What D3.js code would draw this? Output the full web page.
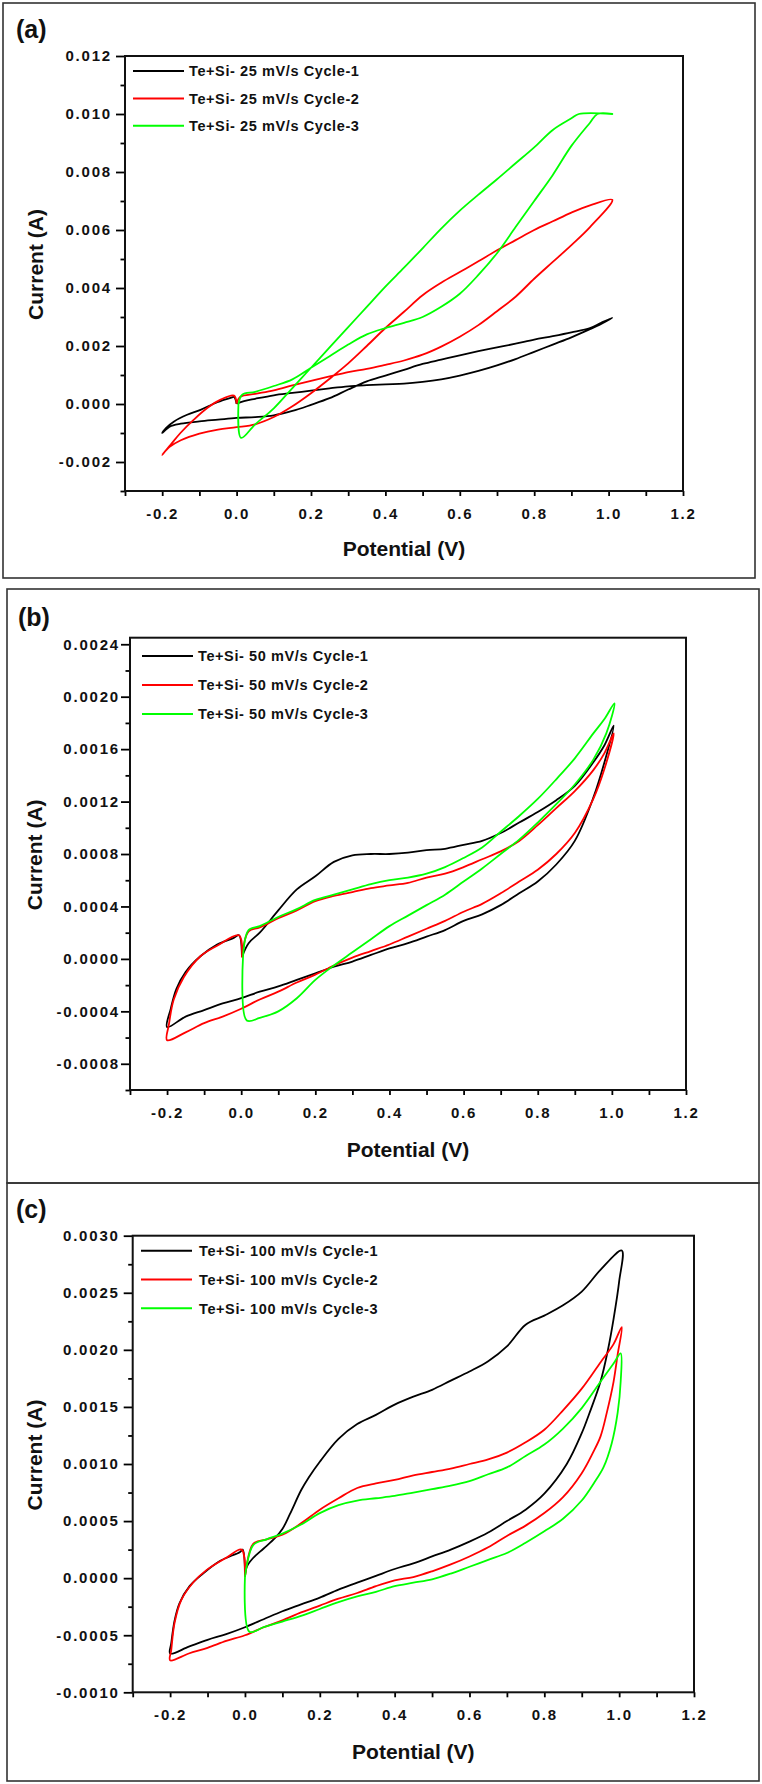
<!DOCTYPE html>
<html><head><meta charset="utf-8">
<script src="https://cdnjs.cloudflare.com/ajax/libs/d3/7.8.5/d3.min.js"></script>
<style>
body{margin:0;background:#fff;}
svg{display:block;}
</style></head><body>
<svg id="chart" width="762" height="1784"></svg>
<script>
// ---------------- DATA (Potential V, Current A) ----------------
const cv25_cycle1 = [
[0.000,0.00001],[0.02,0.00010],[0.05,0.00018],[0.10,0.00030],[0.15,0.00038],[0.20,0.00046],[0.25,0.00054],[0.30,0.00061],[0.35,0.00065],[0.40,0.00068],[0.45,0.00070],[0.50,0.00076],[0.55,0.00085],[0.60,0.00098],[0.65,0.00114],[0.70,0.00133],[0.75,0.00155],[0.80,0.00180],[0.85,0.00205],[0.90,0.00230],[0.95,0.00258],[0.98,0.00276],[1.01,0.00297],
[0.98,0.00280],[0.95,0.00262],[0.90,0.00247],[0.85,0.00234],[0.80,0.00222],[0.75,0.00208],[0.70,0.00195],[0.65,0.00182],[0.60,0.00168],[0.55,0.00153],[0.50,0.00138],[0.45,0.00118],[0.40,0.00098],[0.35,0.00078],[0.30,0.00050],[0.25,0.00020],[0.20,-0.00003],[0.15,-0.00024],[0.10,-0.00039],[0.05,-0.00045],[0.00,-0.00048],[-0.05,-0.00054],[-0.10,-0.00060],[-0.15,-0.00068],[-0.18,-0.00078],[-0.20,-0.00100],
[-0.19,-0.00083],[-0.168,-0.00060],[-0.133,-0.00037],[-0.097,-0.00020],[-0.052,0.00006],[-0.016,0.00021],[-0.007,0.00024],[0.000,0.00001]
];
const cv25_cycle2 = [
[0.000,0.00001],[0.01,0.00025],[0.05,0.00035],[0.10,0.00047],[0.15,0.00064],[0.20,0.00080],[0.25,0.00095],[0.30,0.00110],[0.35,0.00121],[0.40,0.00135],[0.45,0.00150],[0.50,0.00170],[0.55,0.00198],[0.60,0.00232],[0.65,0.00272],[0.70,0.00320],[0.75,0.00370],[0.80,0.00432],[0.85,0.00490],[0.90,0.00548],[0.95,0.00610],[1.01,0.00704],
[0.95,0.00685],[0.90,0.00660],[0.85,0.00630],[0.80,0.00600],[0.75,0.00565],[0.70,0.00530],[0.65,0.00492],[0.60,0.00455],[0.55,0.00418],[0.50,0.00375],[0.45,0.00318],[0.40,0.00262],[0.35,0.00200],[0.30,0.00140],[0.25,0.00087],[0.20,0.00037],[0.15,-0.00008],[0.10,-0.00045],[0.05,-0.00070],[0.00,-0.00080],[-0.05,-0.00088],[-0.10,-0.00102],[-0.15,-0.00125],[-0.18,-0.00148],[-0.20,-0.00175],
[-0.177,-0.00140],[-0.151,-0.00100],[-0.115,-0.00054],[-0.079,-0.00014],[-0.043,0.00015],[-0.007,0.00029],[0.000,0.00001]
];
const cv25_cycle3 = [
[0.005,0.00000],[0.015,0.00032],[0.05,0.00042],[0.10,0.00062],[0.15,0.00085],[0.20,0.00125],[0.25,0.00165],[0.30,0.00205],[0.35,0.00240],[0.40,0.00262],[0.45,0.00280],[0.50,0.00300],[0.55,0.00335],[0.60,0.00380],[0.65,0.00445],[0.70,0.00520],[0.75,0.00610],[0.80,0.00700],[0.85,0.00790],[0.90,0.00890],[0.95,0.00970],[0.97,0.01000],[1.01,0.01000],
[0.92,0.01000],[0.90,0.00985],[0.85,0.00945],[0.80,0.00885],[0.75,0.00830],[0.70,0.00775],[0.65,0.00722],[0.60,0.00667],[0.55,0.00605],[0.50,0.00537],[0.45,0.00470],[0.40,0.00405],[0.35,0.00335],[0.30,0.00265],[0.25,0.00195],[0.20,0.00125],[0.15,0.00055],[0.10,-0.00015],[0.05,-0.00070],[0.012,-0.00117],[0.005,0.00000]
];

const cv50_cycle1 = [
[0.002,0.000015],[0.02,0.00012],[0.05,0.00020],[0.10,0.00037],[0.15,0.00053],[0.20,0.00063],[0.25,0.00074],[0.30,0.00079],[0.35,0.00080],[0.40,0.00080],[0.45,0.00081],[0.50,0.00083],[0.55,0.00084],[0.60,0.00087],[0.65,0.00090],[0.70,0.00096],[0.75,0.00104],[0.80,0.00112],[0.85,0.00121],[0.90,0.00132],[0.95,0.00150],[0.98,0.00163],[1.005,0.00178],
[0.98,0.00150],[0.95,0.00123],[0.90,0.00090],[0.85,0.00072],[0.80,0.00059],[0.75,0.00050],[0.70,0.00041],[0.65,0.00034],[0.60,0.00029],[0.55,0.00022],[0.50,0.00017],[0.45,0.00012],[0.40,0.00008],[0.35,0.00003],[0.30,-0.00002],[0.25,-0.00006],[0.20,-0.00011],[0.15,-0.00016],[0.10,-0.00021],[0.05,-0.00025],[0.00,-0.00030],[-0.05,-0.00034],[-0.10,-0.00039],[-0.15,-0.00044],[-0.20,-0.00052],
[-0.19,-0.00038],[-0.175,-0.00023],[-0.15,-0.00010],[-0.11,0.00002],[-0.065,0.00011],[-0.02,0.00016],[-0.006,0.00018],[0.002,0.000015]
];
const cv50_cycle2 = [
[0.002,0.00001],[0.02,0.00021],[0.05,0.00024],[0.10,0.00031],[0.15,0.00037],[0.20,0.00044],[0.25,0.00048],[0.30,0.00051],[0.35,0.00054],[0.40,0.00056],[0.45,0.00058],[0.50,0.00062],[0.55,0.00065],[0.60,0.00070],[0.65,0.00076],[0.70,0.00082],[0.75,0.00090],[0.80,0.00102],[0.85,0.00115],[0.90,0.00128],[0.95,0.00144],[0.98,0.00157],[1.005,0.00172],
[0.98,0.00145],[0.95,0.00122],[0.90,0.00096],[0.85,0.00080],[0.80,0.00068],[0.75,0.00059],[0.70,0.00050],[0.65,0.00042],[0.60,0.00036],[0.55,0.00029],[0.50,0.00023],[0.45,0.00017],[0.40,0.00011],[0.35,0.00006],[0.30,0.00001],[0.25,-0.00005],[0.20,-0.00012],[0.15,-0.00018],[0.10,-0.00025],[0.05,-0.00031],[0.00,-0.00038],[-0.05,-0.00044],[-0.10,-0.00049],[-0.15,-0.00056],[-0.20,-0.00062],
[-0.195,-0.00050],[-0.182,-0.00031],[-0.155,-0.00014],[-0.11,0.00002],[-0.065,0.00010],[-0.006,0.00018],[0.002,0.00001]
];
const cv50_cycle3 = [
[0.005,0.00002],[0.02,0.00022],[0.05,0.00025],[0.10,0.00032],[0.15,0.00038],[0.20,0.00045],[0.25,0.00049],[0.30,0.00053],[0.35,0.00057],[0.40,0.00060],[0.45,0.00062],[0.50,0.00065],[0.55,0.00070],[0.60,0.00077],[0.65,0.00085],[0.70,0.00097],[0.75,0.00109],[0.80,0.00122],[0.85,0.00137],[0.90,0.00153],[0.95,0.00172],[0.98,0.00183],[1.007,0.00195],
[0.985,0.00172],[0.95,0.00152],[0.90,0.00133],[0.85,0.00118],[0.80,0.00104],[0.75,0.00091],[0.70,0.00080],[0.65,0.00069],[0.60,0.00059],[0.55,0.00049],[0.50,0.00041],[0.45,0.00033],[0.40,0.00025],[0.35,0.00015],[0.30,0.00005],[0.25,-0.00005],[0.20,-0.00016],[0.15,-0.00030],[0.10,-0.00040],[0.05,-0.00045],[0.015,-0.00047],[0.005,0.00002]
];

const cv100_cycle1 = [
[0.000,0.00001],[0.005,0.00010],[0.02,0.00017],[0.05,0.00026],[0.08,0.00035],[0.10,0.00043],[0.12,0.00056],[0.15,0.00077],[0.17,0.00088],[0.20,0.00102],[0.25,0.00122],[0.30,0.00135],[0.35,0.00143],[0.40,0.00152],[0.45,0.00159],[0.50,0.00165],[0.55,0.00173],[0.60,0.00181],[0.65,0.00190],[0.70,0.00203],[0.75,0.00222],[0.80,0.00230],[0.85,0.00239],[0.90,0.00251],[0.95,0.00270],[1.007,0.00287],
[1.0,0.00260],[0.985,0.00227],[0.97,0.00200],[0.95,0.00172],[0.92,0.00144],[0.90,0.00127],[0.86,0.00100],[0.80,0.00074],[0.75,0.00060],[0.70,0.00050],[0.65,0.00040],[0.60,0.00032],[0.55,0.00025],[0.50,0.00019],[0.45,0.00013],[0.40,0.00008],[0.35,0.00002],[0.30,-0.00004],[0.25,-0.00010],[0.20,-0.00017],[0.15,-0.00023],[0.10,-0.00029],[0.05,-0.00036],[0.00,-0.00043],[-0.05,-0.00049],[-0.10,-0.00054],[-0.15,-0.00060],[-0.20,-0.00066],
[-0.197,-0.00057],[-0.188,-0.00037],[-0.175,-0.00022],[-0.148,-0.00007],[-0.112,0.00004],[-0.067,0.00015],[-0.013,0.00023],[-0.006,0.00025],[0.000,0.00001]
];
const cv100_cycle2 = [
[0.000,0.00001],[0.022,0.00030],[0.058,0.00034],[0.10,0.00038],[0.15,0.00048],[0.20,0.00060],[0.25,0.00070],[0.30,0.00079],[0.35,0.00083],[0.40,0.00086],[0.45,0.00090],[0.50,0.00093],[0.55,0.00096],[0.60,0.00100],[0.65,0.00104],[0.70,0.00110],[0.75,0.00119],[0.80,0.00130],[0.85,0.00147],[0.90,0.00166],[0.95,0.00189],[0.985,0.00205],[1.007,0.00220],
[0.996,0.00196],[0.985,0.00172],[0.967,0.00145],[0.95,0.00124],[0.93,0.00110],[0.90,0.00092],[0.85,0.00071],[0.80,0.00057],[0.75,0.00046],[0.70,0.00037],[0.65,0.00027],[0.60,0.00019],[0.55,0.00012],[0.50,0.00006],[0.45,0.00001],[0.40,-0.00002],[0.35,-0.00007],[0.30,-0.00013],[0.25,-0.00018],[0.20,-0.00024],[0.15,-0.00030],[0.10,-0.00037],[0.05,-0.00043],[0.00,-0.00050],[-0.05,-0.00055],[-0.10,-0.00061],[-0.15,-0.00066],[-0.20,-0.00072],
[-0.197,-0.00063],[-0.188,-0.00039],[-0.17,-0.00019],[-0.139,-0.00004],[-0.103,0.00007],[-0.049,0.00018],[-0.009,0.00025],[0.000,0.00001]
];
const cv100_cycle3 = [
[0.000,0.00001],[0.022,0.00029],[0.058,0.00034],[0.10,0.00039],[0.15,0.00047],[0.20,0.00057],[0.25,0.00064],[0.30,0.00068],[0.35,0.00070],[0.40,0.00072],[0.45,0.00075],[0.50,0.00078],[0.55,0.00081],[0.60,0.00085],[0.65,0.00091],[0.70,0.00097],[0.75,0.00107],[0.80,0.00117],[0.85,0.00131],[0.90,0.00149],[0.95,0.00172],[0.985,0.00188],[1.004,0.00197],
[1.004,0.00172],[0.996,0.00145],[0.98,0.00118],[0.958,0.00097],[0.932,0.00083],[0.90,0.00068],[0.85,0.00052],[0.80,0.00041],[0.75,0.00031],[0.70,0.00022],[0.65,0.00016],[0.60,0.00010],[0.55,0.00004],[0.50,-0.00001],[0.45,-0.00004],[0.40,-0.00007],[0.35,-0.00012],[0.30,-0.00016],[0.25,-0.00021],[0.20,-0.00027],[0.15,-0.00033],[0.10,-0.00038],[0.05,-0.00043],[0.012,-0.00047],[0.000,0.00001]
];

const legend25  = ["Te+Si- 25 mV/s Cycle-1","Te+Si- 25 mV/s Cycle-2","Te+Si- 25 mV/s Cycle-3"];
const legend50  = ["Te+Si- 50 mV/s Cycle-1","Te+Si- 50 mV/s Cycle-2","Te+Si- 50 mV/s Cycle-3"];
const legend100 = ["Te+Si- 100 mV/s Cycle-1","Te+Si- 100 mV/s Cycle-2","Te+Si- 100 mV/s Cycle-3"];
const cycleColors = ["#000000","#ff0000","#00ff00"];

const xDomain = [-0.3, 1.2];
const xAllTicks = [-0.3,-0.2,-0.1,0,0.1,0.2,0.3,0.4,0.5,0.6,0.7,0.8,0.9,1.0,1.1,1.2];
const xLabelTicks = [-0.2,0,0.2,0.4,0.6,0.8,1.0,1.2];

const yDomainA = [-0.003, 0.012];
const yMajorA = [-0.002,0,0.002,0.004,0.006,0.008,0.010,0.012];
const yMinorA = [-0.003,-0.001,0.001,0.003,0.005,0.007,0.009,0.011];
const yDomainB = [-0.001, 0.00245];
const yMajorB = [-0.0008,-0.0004,0,0.0004,0.0008,0.0012,0.0016,0.0020,0.0024];
const yMinorB = [-0.001,-0.0006,-0.0002,0.0002,0.0006,0.001,0.0014,0.0018,0.0022];
const yDomainC = [-0.001, 0.003];
const yMajorC = [-0.001,-0.0005,0,0.0005,0.001,0.0015,0.002,0.0025,0.003];
const yMinorC = [-0.00075,-0.00025,0.00025,0.00075,0.00125,0.00175,0.00225,0.00275];

const xTitle = "Potential (V)";
const yTitle = "Current (A)";
const panelLabels = ["(a)","(b)","(c)"];

// ---------------- LAYOUT ----------------
const panels = [
  {label:panelLabels[0], series:[cv25_cycle1,cv25_cycle2,cv25_cycle3], names:legend25,
   yDomain:yDomainA, yMajor:yMajorA, yMinor:yMinorA, dec:3,
   box:[3,3,755,578], plot:{l:125,r:683,t:56,b:491}, legend:{x:133,y:71,dy:27.4,tx:189},
   labelPos:[16,38], yPad:4, xTitleY:556, yTitleX:43},
  {label:panelLabels[1], series:[cv50_cycle1,cv50_cycle2,cv50_cycle3], names:legend50,
   yDomain:yDomainB, yMajor:yMajorB, yMinor:yMinorB, dec:4,
   box:[7,589,759,1183], plot:{l:130,r:686,t:637.7,b:1090}, legend:{x:142,y:656,dy:29,tx:198},
   labelPos:[18,626], yPad:1, xTitleY:1157, yTitleX:42},
  {label:panelLabels[2], series:[cv100_cycle1,cv100_cycle2,cv100_cycle3], names:legend100,
   yDomain:yDomainC, yMajor:yMajorC, yMinor:yMinorC, dec:4,
   box:[7,1183,759,1781], plot:{l:132.7,r:694,t:1235.7,b:1692.3}, legend:{x:141,y:1250.7,dy:28.8,tx:199},
   labelPos:[16,1218], yPad:4, xTitleY:1759, yTitleX:42}
];

const FONT = "'Liberation Sans', Arial, Helvetica, sans-serif";
const svg = d3.select("#chart");

panels.forEach(p => {
  const g = svg.append("g");
  // outer panel box
  g.append("rect")
    .attr("x", p.box[0]).attr("y", p.box[1])
    .attr("width", p.box[2]-p.box[0]).attr("height", p.box[3]-p.box[1])
    .attr("fill","none").attr("stroke","#333").attr("stroke-width",1.6);

  const x = d3.scaleLinear().domain(xDomain).range([p.plot.l, p.plot.r]);
  const y = d3.scaleLinear().domain(p.yDomain).range([p.plot.b, p.plot.t]);

  const fmtX = v => d3.format(".1f")(v).replace("\u2212","-");
  const fmtY = v => d3.format("." + p.dec + "f")(v).replace("\u2212","-");

  // x axis
  const xa = g.append("g").attr("transform", `translate(0,${p.plot.b})`)
    .call(d3.axisBottom(x).tickValues(xAllTicks).tickSize(5).tickSizeOuter(0).tickPadding(12)
      .tickFormat(d => xLabelTicks.some(m => Math.abs(m-d) < 1e-9) ? fmtX(d) : ""));
  xa.select(".domain").remove();
  // y axis major
  const ya = g.append("g").attr("transform", `translate(${p.plot.l},0)`)
    .call(d3.axisLeft(y).tickValues(p.yMajor).tickSize(9).tickSizeOuter(0).tickPadding(p.yPad).tickFormat(fmtY));
  ya.select(".domain").remove();
  const ym = g.append("g").attr("transform", `translate(${p.plot.l},0)`)
    .call(d3.axisLeft(y).tickValues(p.yMinor).tickSize(4.5).tickSizeOuter(0).tickFormat(""));
  ym.select(".domain").remove();

  g.selectAll(".tick line").attr("stroke","#000").attr("stroke-width",1.8);
  g.selectAll(".tick text")
    .attr("font-family", FONT).attr("font-weight","bold").attr("font-size","15px")
    .attr("letter-spacing","1.8px").attr("fill","#111");

  // frame
  g.append("rect")
    .attr("x", p.plot.l).attr("y", p.plot.t)
    .attr("width", p.plot.r - p.plot.l).attr("height", p.plot.b - p.plot.t)
    .attr("fill","none").attr("stroke","#111").attr("stroke-width",2);

  // curves
  const line = d3.line().x(d => x(d[0])).y(d => y(d[1])).curve(d3.curveCatmullRom.alpha(0.5));
  p.series.forEach((s, i) => {
    g.append("path").datum(s).attr("d", line)
      .attr("fill","none").attr("stroke", cycleColors[i]).attr("stroke-width",1.8)
      .attr("stroke-linejoin","round");
  });

  // legend
  p.names.forEach((n, i) => {
    const ly = p.legend.y + i*p.legend.dy;
    g.append("line").attr("x1", p.legend.x).attr("x2", p.legend.x + 51)
      .attr("y1", ly).attr("y2", ly).attr("stroke", cycleColors[i]).attr("stroke-width",2);
    g.append("text").attr("x", p.legend.tx).attr("y", ly + 5.3)
      .attr("font-family", FONT).attr("font-weight","bold").attr("font-size","14.5px")
      .attr("letter-spacing","0.6px").attr("fill","#111").text(n);
  });

  // titles
  g.append("text").attr("x", (p.plot.l + p.plot.r)/2).attr("y", p.xTitleY)
    .attr("text-anchor","middle").attr("font-family", FONT).attr("font-weight","bold")
    .attr("font-size","21px").attr("fill","#111").text(xTitle);
  const cy = (p.plot.t + p.plot.b)/2 - 9;
  g.append("text").attr("transform", `translate(${p.yTitleX},${cy}) rotate(-90)`)
    .attr("text-anchor","middle").attr("font-family", FONT).attr("font-weight","bold")
    .attr("font-size","21px").attr("fill","#111").text(yTitle);

  // panel label
  g.append("text").attr("x", p.labelPos[0]).attr("y", p.labelPos[1])
    .attr("font-family", FONT).attr("font-weight","bold").attr("font-size","25px")
    .attr("fill","#111").text(p.label);
});
</script></body></html>
